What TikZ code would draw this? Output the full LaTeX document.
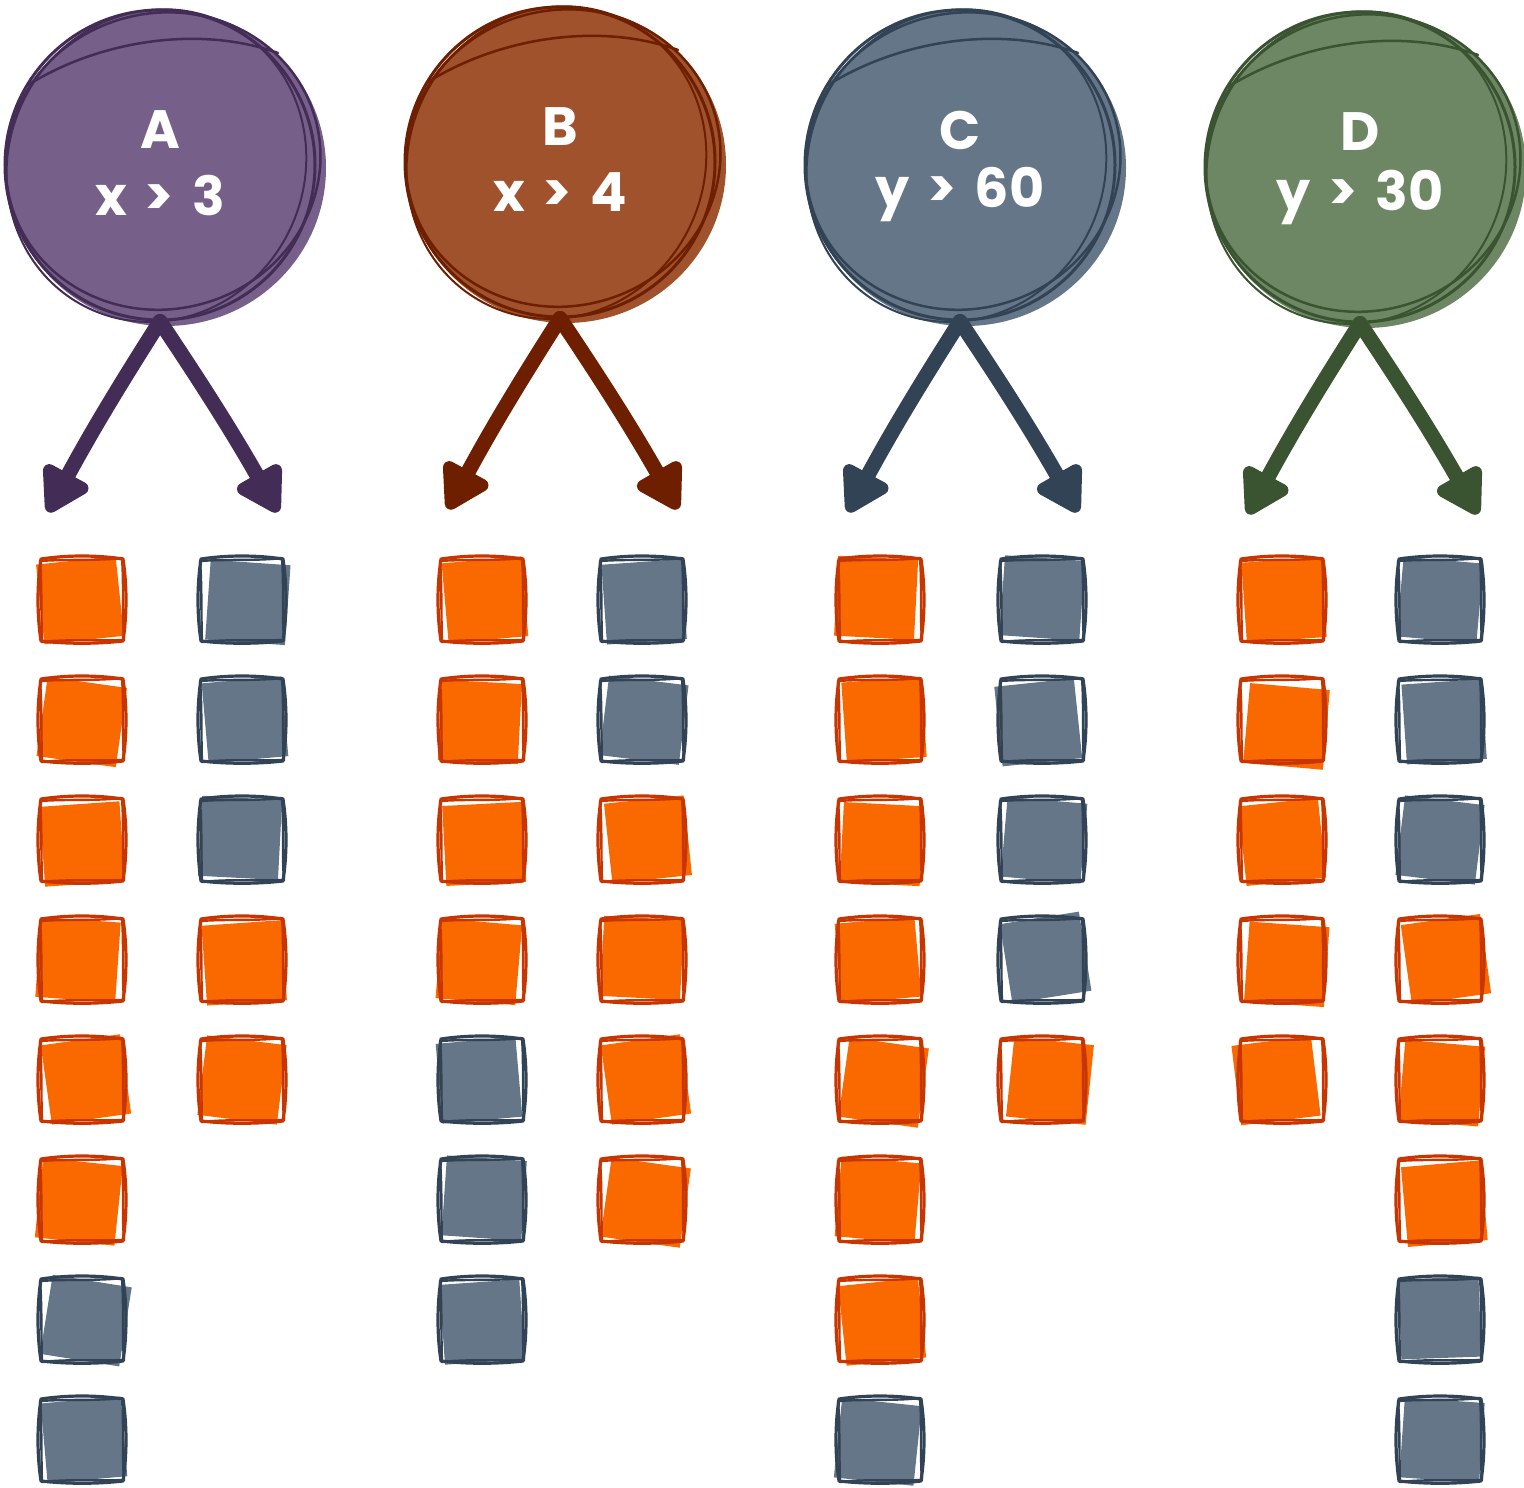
\documentclass[tikz,border=0pt]{standalone}
\usepackage{fontspec}
\setmainfont{Poppins}
\usetikzlibrary{arrows.meta}
\definecolor{ofill}{HTML}{FA6800}\definecolor{ostroke}{HTML}{C73500}
\definecolor{gfill}{HTML}{647687}\definecolor{gstroke}{HTML}{314354}
\definecolor{pfill}{HTML}{76608A}\definecolor{pstroke}{HTML}{432D57}
\definecolor{bfill}{HTML}{A0522D}\definecolor{bstroke}{HTML}{6D1F00}
\definecolor{cfill}{HTML}{647687}\definecolor{cstroke}{HTML}{314354}
\definecolor{dfill}{HTML}{6D8764}\definecolor{dstroke}{HTML}{3A5431}
\tikzset{
  lbl/.style={text=white, font=\fontsize{54}{60}\selectfont\bfseries},
  branch/.style={line width=15pt, line cap=round, -{Triangle[length=50pt,width=56pt,round]}}
}
\newcommand\gap{\hspace{18pt}}
\newcommand\sqbox[6]{%
\begin{scope}[shift={(#1,#2)}]
\fill[#3fill,rotate=#4] (#5-40,#6-40) rectangle (#5+40,#6+40);
\draw[#3stroke,line width=3.2pt,line join=round] (-41,-41) .. controls (-14,-45) and (14,-45) .. (41,-41) .. controls (45,-14) and (45,14) .. (41,41) .. controls (14,44) and (-14,44) .. (-41,41) .. controls (-45,14) and (-45,-14) .. cycle;
\draw[#3stroke,line width=2.4pt,line join=round] (-42,-39) .. controls (-15,-41) and (15,-39) .. (40,-42) .. controls (42,-15) and (40,15) .. (42,40) .. controls (15,41) and (-15,39) .. (-40,42) .. controls (-41,15) and (-40,-15) .. cycle;
\end{scope}}
\newcommand\cnode[6]{% name, x, y, color letter, line1, line2
\fill[#4fill] (#2+6,#3+3) ellipse [x radius=160, y radius=158];
\node[circle, minimum size=310pt, inner sep=0pt, draw=#4stroke, line width=3pt] (#1) at (#2,#3) {};
\draw[#4stroke, line width=2.5pt, rotate around={15:(#2,#3)}] (#2+4,#3-3) ellipse [x radius=158, y radius=148];
\draw[#4stroke, line width=2pt, rotate around={-25:(#2,#3)}] (#2-3,#3+2) ellipse [x radius=148, y radius=158];
\draw[#4stroke, line width=2.5pt, line cap=round] (#2-132,#3-80) .. controls (#2-60,#3-125) and (#2+40,#3-140) .. (#2+118,#3-112);
\node[lbl] (#1t) at (#2,#3-35) {#5};
\node[lbl] (#1c) at (#2,#3+30) {#6};
\draw[#4stroke, branch] (#1.south) to[bend right=2] (#2-112,#3+347);
\draw[#4stroke, branch] (#1.south) to[bend left=2] (#2+118,#3+347);
}
\begin{document}
\begin{tikzpicture}[x=1pt,y=-1pt]
\useasboundingbox (0,0) rectangle (1524,1488);
\cnode{A}{160}{165}{p}{A}{x\gap>\gap3}
\cnode{B}{560}{162}{b}{B}{x\gap>\gap4}
\cnode{C}{960}{165}{c}{C}{y\gap>\gap60}
\cnode{D}{1360}{167}{d}{D}{y\gap>\gap30}
% A left
\sqbox{82}{600}{o}{6}{-2}{0}
\sqbox{82}{720}{o}{-8}{0}{2}
\sqbox{82}{840}{o}{4}{0}{4}
\sqbox{82}{960}{o}{-4}{-4}{0}
\sqbox{82}{1080}{o}{8}{4}{0}
\sqbox{82}{1200}{o}{-6}{-3}{2}
\sqbox{82}{1320}{g}{-9}{4}{0}
\sqbox{82}{1440}{g}{5}{2}{0}
% A right
\sqbox{242}{600}{g}{-4}{6}{2}
\sqbox{242}{720}{g}{5}{3}{0}
\sqbox{242}{840}{g}{-3}{-2}{-2}
\sqbox{242}{960}{o}{4}{2}{3}
\sqbox{242}{1080}{o}{-7}{0}{0}
% B left
\sqbox{482}{600}{o}{5}{3}{0}
\sqbox{482}{720}{o}{-3}{-2}{2}
\sqbox{482}{840}{o}{3}{2}{4}
\sqbox{482}{960}{o}{-5}{-3}{2}
\sqbox{482}{1080}{g}{5}{-3}{0}
\sqbox{482}{1200}{g}{-4}{2}{-2}
\sqbox{482}{1320}{g}{4}{0}{2}
% B right
\sqbox{642}{600}{g}{4}{2}{2}
\sqbox{642}{720}{g}{-7}{2}{0}
\sqbox{642}{840}{o}{6}{6}{0}
\sqbox{642}{960}{o}{-3}{0}{-2}
\sqbox{642}{1080}{o}{8}{4}{0}
\sqbox{642}{1200}{o}{-8}{4}{2}
% C left
\sqbox{880}{600}{o}{-3}{-4}{-2}
\sqbox{880}{720}{o}{4}{4}{0}
\sqbox{880}{840}{o}{-3}{2}{4}
\sqbox{880}{960}{o}{5}{-2}{0}
\sqbox{880}{1080}{o}{-8}{4}{2}
\sqbox{880}{1200}{o}{-5}{-2}{0}
\sqbox{880}{1320}{o}{6}{2}{2}
\sqbox{880}{1440}{g}{-6}{-2}{2}
% C right
\sqbox{1042}{600}{g}{-4}{0}{-2}
\sqbox{1042}{720}{g}{6}{-4}{2}
\sqbox{1042}{840}{g}{-5}{2}{0}
\sqbox{1042}{960}{g}{9}{4}{-2}
\sqbox{1042}{1080}{o}{-6}{8}{0}
% D left
\sqbox{1282}{600}{o}{4}{2}{0}
\sqbox{1282}{720}{o}{-5}{5}{6}
\sqbox{1282}{840}{o}{6}{0}{2}
\sqbox{1282}{960}{o}{-4}{5}{4}
\sqbox{1282}{1080}{o}{7}{-6}{0}
% D right
\sqbox{1440}{600}{g}{-5}{0}{0}
\sqbox{1440}{720}{g}{4}{4}{2}
\sqbox{1440}{840}{g}{-7}{0}{0}
\sqbox{1440}{960}{o}{8}{6}{0}
\sqbox{1440}{1080}{o}{-5}{2}{3}
\sqbox{1440}{1200}{o}{5}{4}{4}
\sqbox{1440}{1320}{g}{2}{0}{-2}
\sqbox{1440}{1440}{g}{-4}{2}{0}
\end{tikzpicture}
\end{document}
